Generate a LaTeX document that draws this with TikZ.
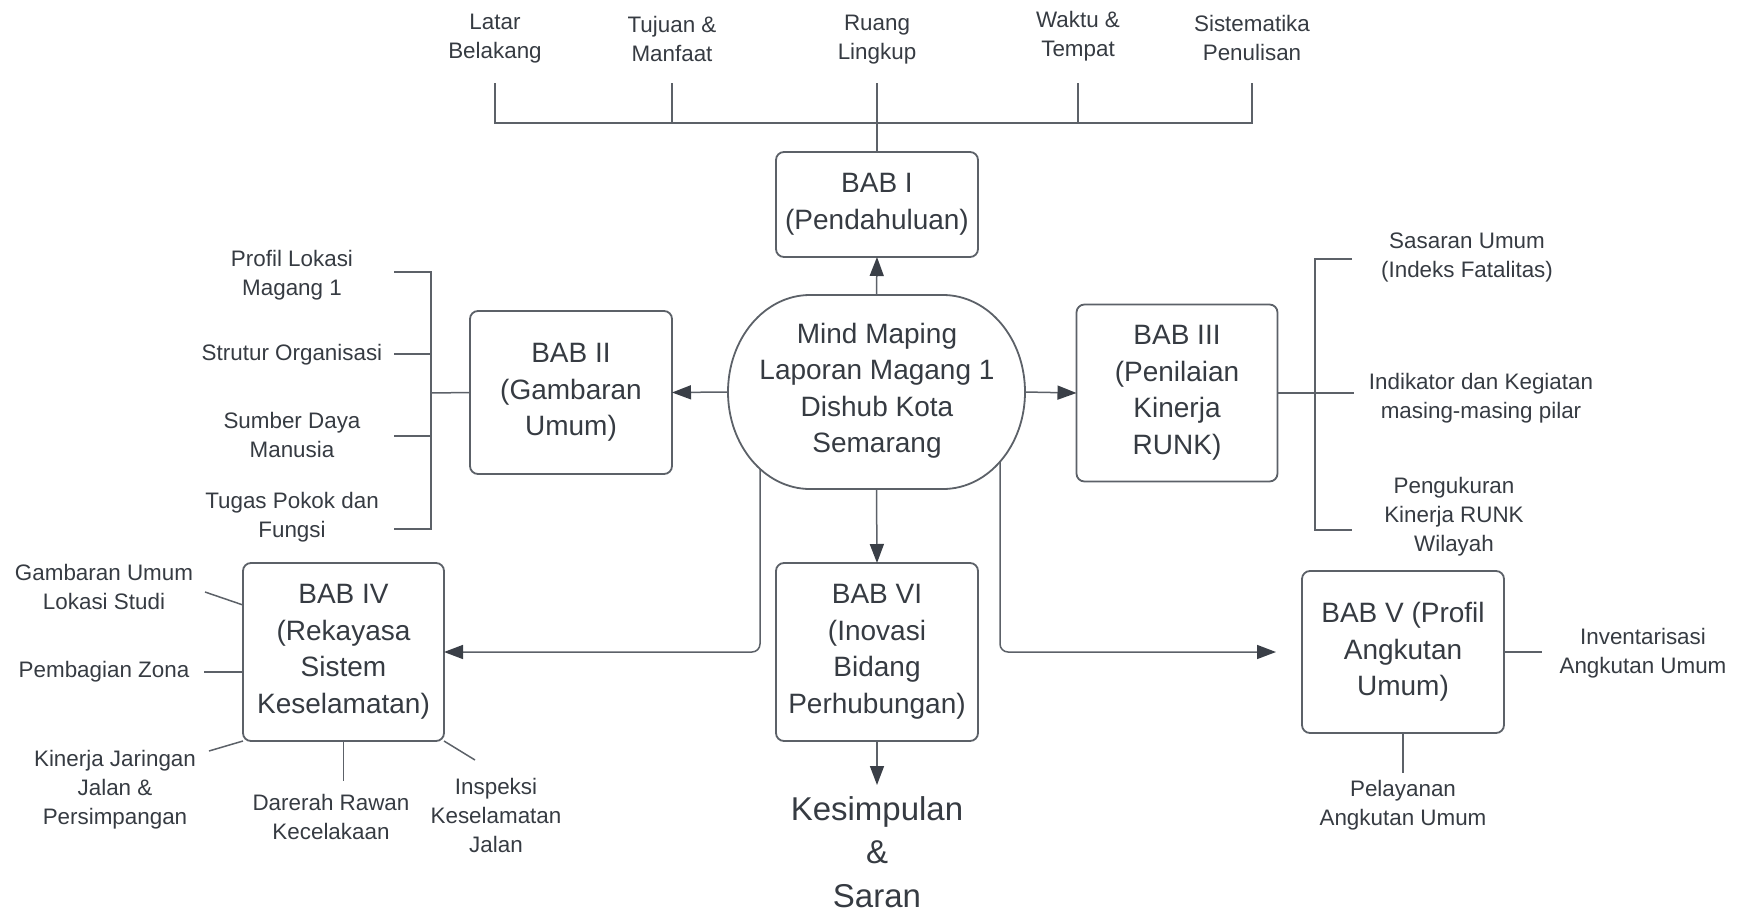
\documentclass[tikz,border=0pt]{standalone}
\usepackage{fontspec}
\setmainfont{Liberation Sans}
\usetikzlibrary{arrows.meta,shapes.geometric,calc}
\definecolor{txt}{HTML}{363B42}
\definecolor{ln}{HTML}{5C6168}
\definecolor{tip}{HTML}{3A3F47}
\begin{document}
\begin{tikzpicture}[x=1pt,y=-1pt,
  lab/.style={align=center,text=txt,font=\fontsize{22.4}{29}\selectfont,inner sep=0pt},
  box/.style={draw=ln,line width=1.8pt,rounded corners=8pt,align=center,text=txt,
    font=\fontsize{28}{36.5}\selectfont,inner sep=0pt,outer sep=0pt},
  con/.style={draw=ln,line width=1.5pt},
  arr/.style={con,-{Triangle[length=19pt,width=14pt,color=tip]}},
]
\useasboundingbox (0,0) rectangle (1738,913);

% central rounded shape
\node[minimum width=297pt,minimum height=194pt,inner sep=0pt,outer sep=0pt] (e) at (876.5,392) {};
\draw[ln,line width=1.8pt] (810,295) -- (943,295)
  arc[start angle=-90,end angle=90,x radius=82,y radius=97] -- (810,489)
  arc[start angle=90,end angle=270,x radius=82,y radius=97] -- cycle;
\node[align=center,text=txt,font=\fontsize{28}{36.5}\selectfont,inner sep=0pt] (et) at (877,391)
  {Mind Maping\\Laporan Magang 1\\Dishub Kota\\Semarang};
\coordinate (eL) at (760,469);
\coordinate (eR) at (1000,462);

% chapter boxes
\node[box,minimum width=202pt,minimum height=105pt] (b1) at (877,204.5) {BAB I\\(Pendahuluan)};
\node[box,minimum width=202pt,minimum height=163pt] (b2) at (571,392.5) {BAB II\\(Gambaran\\Umum)};
\node[box,minimum width=201pt,minimum height=177pt] (b3) at (1177,393) {BAB III\\(Penilaian\\Kinerja\\RUNK)};
\node[box,minimum width=201pt,minimum height=178pt] (b4) at (343.5,652) {BAB IV\\(Rekayasa\\Sistem\\Keselamatan)};
\node[box,minimum width=202pt,minimum height=178pt] (b6) at (877,652) {BAB VI\\(Inovasi\\Bidang\\Perhubungan)};
\node[box,minimum width=202pt,minimum height=162pt] (b5) at (1403,652) {BAB V (Profil\\Angkutan\\Umum)};
\node[anchor=north,align=center,text=txt,font=\fontsize{33}{43.5}\selectfont,inner sep=0pt] (ks) at (877,796)
  {Kesimpulan\\\&\\Saran};

% main arrows
\draw[arr] (e.north) -- (b1.south);
\draw[arr] (e.west) -- (b2.east);
\draw[arr] (e.east) -- (b3.west);
\draw[arr] (e.south) -- (b6.north);
\draw[arr,shorten >=11pt] (b6.south) -- (ks.north);
\draw[arr,rounded corners=8pt] (eL) |- (b4.east);
\draw[arr,rounded corners=8pt,shorten >=26pt] (eR) |- (b5.west);

% BAB I topics
\node[lab] (t1) at (495,38.5) {Latar\\Belakang};
\node[lab] (t2) at (672,38.5) {Tujuan \&\\Manfaat};
\node[lab] (t3) at (877,39.5) {Ruang\\Lingkup};
\node[lab] (t4) at (1078,36.5) {Waktu \&\\Tempat};
\node[lab] (t5) at (1252,37.5) {Sistematika\\Penulisan};
\coordinate (tky) at (0,83);
\coordinate (bary) at (0,123);
\draw[con] (t1 |- tky) -- (t1 |- bary) -| (t5 |- tky);
\draw[con] (t2 |- tky) -- (t2 |- bary);
\draw[con] (t4 |- tky) -- (t4 |- bary);
\draw[con] (t3 |- tky) -- (b1.north);

% BAB II topics
\node[lab] (l21) at (292,275) {Profil Lokasi\\Magang 1};
\node[lab] (l22) at (292,355) {Strutur Organisasi};
\node[lab] (l23) at (292,435) {Sumber Daya\\Manusia};
\node[lab] (l24) at (292,517) {Tugas Pokok dan\\Fungsi};
\coordinate (s2) at (431,393);
\coordinate (s2a) at (431,272);
\coordinate (s2d) at (431,529);
\draw[con] (b2.west) -- (s2);
\draw[con] (394,272) -- (s2a) -- (s2d) -- (394,529);
\draw[con] (394,354) -- (431,354);
\draw[con] (394,436) -- (431,436);

% BAB III topics
\node[lab] (l31) at (1467,257) {Sasaran Umum\\(Indeks Fatalitas)};
\node[lab] (l32) at (1481,398.5) {Indikator dan Kegiatan\\masing-masing pilar};
\node[lab] (l33) at (1454,517) {Pengukuran\\Kinerja RUNK\\Wilayah};
\coordinate (s3) at (1354,393);
\coordinate (s3a) at (1315,259);
\coordinate (s3c) at (1315,530);
\draw[con] (b3.east) -- (s3);
\draw[con] (1352,259) -- (s3a) -- (s3c) -- (1352,530);

% BAB IV topics
\node[lab] (l41) at (104,587) {Gambaran Umum\\Lokasi Studi};
\node[lab] (l42) at (104,672) {Pembagian Zona};
\node[lab] (l43) at (115,790) {Kinerja Jaringan\\Jalan \&\\Persimpangan};
\node[lab] (l44) at (331,817) {Darerah Rawan\\Kecelakaan};
\node[lab] (l45) at (496,815) {Inspeksi\\Keselamatan\\Jalan};
\coordinate (c41) at (205,592);
\coordinate (c42) at (204,672);
\coordinate (c43) at (209,751);
\coordinate (c44) at (343.5,781);
\coordinate (c45) at (475,760);
\draw[con] (c41) -- (243,605);
\draw[con] (c42) -- (243,672);
\draw[con] (c43) -- (b4.south west);
\draw[con] (b4.south) -- (c44);
\draw[con] (b4.south east) -- (c45);

% BAB V topics
\node[lab] (l51) at (1643,653.5) {Inventarisasi\\Angkutan Umum};
\node[lab] (l52) at (1403,805) {Pelayanan\\Angkutan Umum};
\coordinate (c51) at (1542,652);
\coordinate (c52) at (1403,773);
\draw[con] (b5.east) -- (c51);
\draw[con] (b5.south) -- (c52);
\end{tikzpicture}
\end{document}
